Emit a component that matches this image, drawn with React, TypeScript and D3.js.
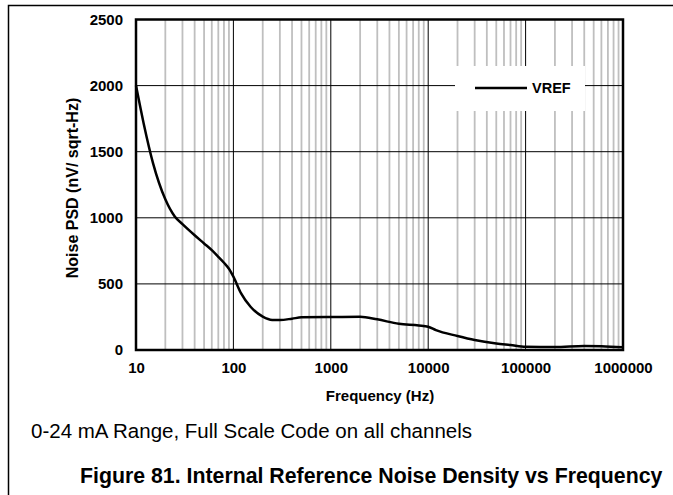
import { useRef, useEffect } from 'react'
import * as d3 from 'd3'

// Frequency (Hz) and noise PSD (nV/sqrt-Hz)
const freqs = [
  10, 12, 15, 20, 25, 30, 40, 50, 60, 70, 80, 90, 100, 120, 150, 200, 250, 300, 400, 500, 1000,
  2000, 3000, 5000, 8000, 10000, 12000, 20000, 30000, 50000, 70000, 100000, 200000, 400000,
  600000, 1000000,
]
const psd = [
  2000, 1712, 1410, 1140, 1010, 952, 868, 806, 755, 705, 660, 615, 555, 428, 327, 252, 227, 227,
  237, 247, 249, 252, 232, 198, 186, 176, 150, 106, 76, 50, 38, 25, 22, 30, 28, 20,
]
const xTicks = [10, 100, 1000, 10000, 100000, 1000000]
const yTicks = [0, 500, 1000, 1500, 2000, 2500]
const seriesName = 'VREF'
const xTitle = 'Frequency (Hz)'
const yTitle = 'Noise PSD (nV/ sqrt-Hz)'
const note = '0-24 mA Range, Full Scale Code on all channels'
const caption = 'Figure 81. Internal Reference Noise Density vs Frequency'

const W = 673
const H = 495
const FONT = '"Liberation Sans", Arial, sans-serif'

export default function App() {
  const svgRef = useRef<SVGSVGElement>(null)

  useEffect(() => {
    if (!svgRef.current) return
    const svg = d3.select(svgRef.current)
    svg.selectAll('*').remove()

    const left = 136
    const right = 623
    const top = 19.5
    const bottom = 350

    const x = d3.scaleLog().domain([10, 1000000]).range([left, right])
    const y = d3.scaleLinear().domain([0, 2500]).range([bottom, top])

    svg.append('rect').attr('width', W).attr('height', H).attr('fill', '#fff')

    // page frame
    svg
      .append('rect')
      .attr('x', 8.5)
      .attr('y', 5.5)
      .attr('width', 800)
      .attr('height', 600)
      .attr('fill', 'none')
      .attr('stroke', '#000')
      .attr('stroke-width', 1.5)

    // minor vertical grid
    const minor: number[] = []
    for (let k = 1; k < 6; k++) {
      for (let m = 2; m < 10; m++) minor.push(m * Math.pow(10, k))
    }
    svg
      .append('g')
      .selectAll('line')
      .data(minor)
      .join('line')
      .attr('x1', (d) => x(d))
      .attr('x2', (d) => x(d))
      .attr('y1', top)
      .attr('y2', bottom)
      .attr('stroke', '#bfbfbf')
      .attr('stroke-width', 1.8)

    // major grid
    svg
      .append('g')
      .selectAll('line')
      .data(xTicks.slice(1, -1))
      .join('line')
      .attr('x1', (d) => x(d))
      .attr('x2', (d) => x(d))
      .attr('y1', top)
      .attr('y2', bottom)
      .attr('stroke', '#000')
      .attr('stroke-width', 1)

    svg
      .append('g')
      .selectAll('line')
      .data(yTicks.slice(1, -1))
      .join('line')
      .attr('x1', left)
      .attr('x2', right)
      .attr('y1', (d) => y(d))
      .attr('y2', (d) => y(d))
      .attr('stroke', '#000')
      .attr('stroke-width', 1)

    // legend box
    svg
      .append('rect')
      .attr('x', 455)
      .attr('y', 66)
      .attr('width', 130)
      .attr('height', 45)
      .attr('fill', '#fff')
    svg
      .append('line')
      .attr('x1', 475)
      .attr('x2', 527)
      .attr('y1', 88)
      .attr('y2', 88)
      .attr('stroke', '#000')
      .attr('stroke-width', 2.5)
    svg
      .append('text')
      .attr('x', 532)
      .attr('y', 93)
      .attr('font-family', FONT)
      .attr('font-weight', 700)
      .attr('font-size', 14.5)
      .text(seriesName)

    // curve
    const line = d3
      .line<number>()
      .x((_, i) => x(freqs[i]))
      .y((d) => y(d))
      .curve(d3.curveMonotoneX)
    svg
      .append('path')
      .attr('d', line(psd) ?? '')
      .attr('fill', 'none')
      .attr('stroke', '#000')
      .attr('stroke-width', 2.5)

    // plot border
    svg
      .append('rect')
      .attr('x', left)
      .attr('y', top)
      .attr('width', right - left)
      .attr('height', bottom - top)
      .attr('fill', 'none')
      .attr('stroke', '#000')
      .attr('stroke-width', 2.5)

    // axes
    const xAxis = svg
      .append('g')
      .attr('transform', `translate(0,${bottom})`)
      .call(d3.axisBottom(x).tickValues(xTicks).tickFormat(d3.format('d')).tickSize(0).tickPadding(12))
    const yAxis = svg
      .append('g')
      .attr('transform', `translate(${left},0)`)
      .call(d3.axisLeft(y).tickValues(yTicks).tickFormat(d3.format('d')).tickSize(0).tickPadding(13))
    for (const a of [xAxis, yAxis]) {
      a.select('.domain').remove()
      a.selectAll('text')
        .attr('font-family', FONT)
        .attr('font-weight', 700)
        .attr('font-size', 15)
        .attr('fill', '#000')
    }

    // titles
    svg
      .append('text')
      .attr('x', 380)
      .attr('y', 401)
      .attr('text-anchor', 'middle')
      .attr('font-family', FONT)
      .attr('font-weight', 700)
      .attr('font-size', 15)
      .text(xTitle)
    svg
      .append('text')
      .attr('transform', 'translate(78,188) rotate(-90)')
      .attr('text-anchor', 'middle')
      .attr('font-family', FONT)
      .attr('font-weight', 700)
      .attr('font-size', 16)
      .text(yTitle)

    svg
      .append('text')
      .attr('x', 31)
      .attr('y', 438)
      .attr('font-family', FONT)
      .attr('font-size', 20.5)
      .text(note)
    svg
      .append('text')
      .attr('x', 80)
      .attr('y', 483)
      .attr('font-family', FONT)
      .attr('font-weight', 700)
      .attr('font-size', 21.3)
      .text(caption)

    return () => {
      svg.selectAll('*').remove()
    }
  }, [])

  return (
    <div style={{ position: 'absolute', left: 0, top: 0 }}>
      <svg ref={svgRef} width={W} height={H} style={{ display: 'block' }} />
    </div>
  )
}
